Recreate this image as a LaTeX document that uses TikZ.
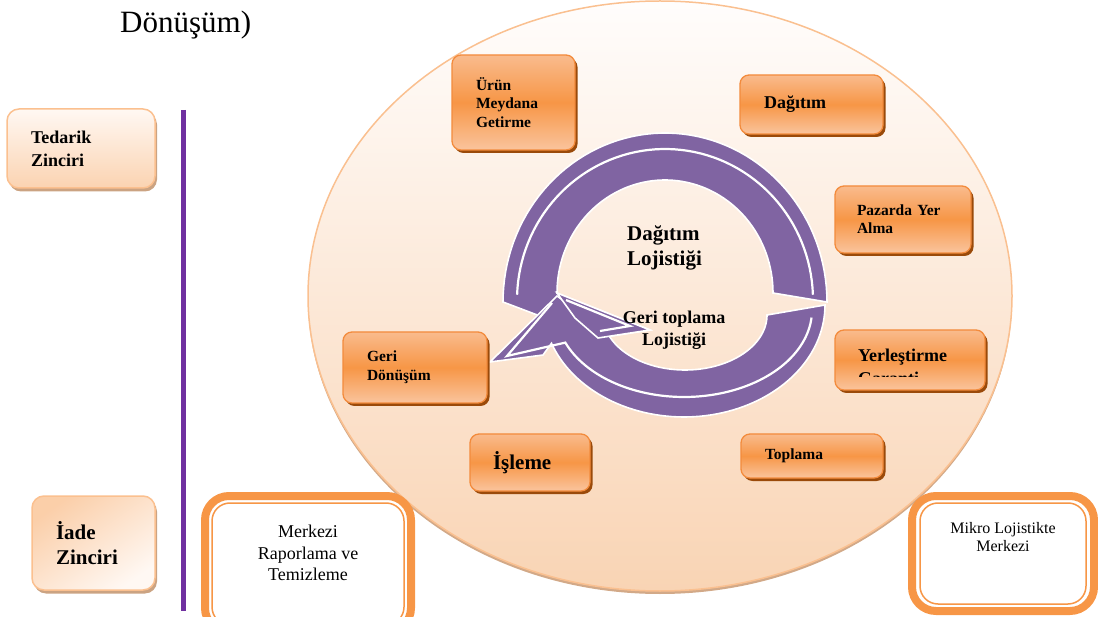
\documentclass[tikz,border=0pt]{standalone}
\usepackage{fontspec}
\setmainfont{Liberation Serif}
\usetikzlibrary{shadows,shapes.geometric}
\definecolor{purp}{HTML}{8064A2}
\definecolor{vline}{HTML}{7030A0}
\definecolor{omid}{HTML}{F79646}
\definecolor{otop}{HTML}{F9BB8D}
\definecolor{obot}{HTML}{FAC49D}
\definecolor{oborder}{HTML}{F38B3C}
\definecolor{shbrown}{HTML}{9A4A0A}
\definecolor{ptop}{HTML}{FFF8F3}
\definecolor{pbot}{HTML}{FBD3B1}
\definecolor{pborder}{HTML}{FBC08F}
\definecolor{pshadow}{HTML}{CBA382}
\definecolor{etop}{HTML}{FFFDFC}
\definecolor{ebot}{HTML}{F9D4B4}
\definecolor{eborder}{HTML}{FAC090}
\definecolor{eshadow}{HTML}{D2A988}
\newcommand\myfs[2]{\fontsize{#1pt}{#2pt}\selectfont}
\tikzset{
  obox/.style={rounded corners=9pt, draw=oborder, line width=1.3pt,
    top color=otop, bottom color=obot, middle color=omid,
    drop shadow={shadow xshift=2.5pt,shadow yshift=-3pt,fill=shbrown,opacity=1},
    align=left, inner xsep=24pt, inner ysep=0pt, font=\bfseries},
  pbox/.style={rounded corners=12pt, draw=pborder, line width=1.5pt,
    drop shadow={shadow xshift=2pt,shadow yshift=-3.5pt,fill=pshadow,opacity=1},
    align=left, inner xsep=24pt, inner ysep=0pt, font=\bfseries},
  wframe/.style={draw=omid, line width=8pt, fill=white},
  wline/.style={draw=omid, line width=1.5pt},
  purpfill/.style={fill=purp, draw=white, line width=1.6pt, line join=miter},
  stripe/.style={draw=white, line width=2.2pt},
}
\begin{document}
\begin{tikzpicture}[x=1pt,y=-1pt]
\useasboundingbox (0,0) rectangle (1098,617);

% title
\node[anchor=base west, font=\myfs{31}{36}, inner sep=0pt] (title) at (120,33) {Dönüşüm)};

% vertical line
\coordinate (vt) at (183,110);
\coordinate (vb) at (183,611);
\draw[vline, line width=5pt] (vt) -- (vb);

% big ellipse
\node[ellipse, minimum width=704pt, minimum height=590pt, inner sep=0pt,
  draw=eborder, line width=1.5pt, top color=etop, bottom color=ebot,
  drop shadow={shadow xshift=0pt,shadow yshift=-3pt,fill=eshadow,opacity=1}] (cyc) at (660,296) {};

% purple circular arrows
% upper arrow
\path[purpfill] plot[domain=180:360,samples=70] ({665+162*cos(\x)},{302+169*sin(\x)})
  -- (773,293)
  -- plot[domain=360:180,samples=70] ({665+108*cos(\x)},{293+113*sin(\x)})
  -- (650,330) -- (598,338) -- cycle;
% lower arrow
\path[purpfill] plot[domain=0:160,samples=70] ({684+141*cos(\x)},{305+112*sin(\x)})
  -- (543,355) -- (490,362) -- (557,296)
  -- plot[domain=162:0,samples=70] ({685+82*cos(\x)},{315+55*sin(\x)}) -- cycle;
% upper arrowhead on top
\path[purpfill] (557,293) -- (650,330) -- (598,338) -- (575,318) -- cycle;
% stripes
\draw[stripe] plot[domain=182:358,samples=70] ({665+148*cos(\x)},{300+151*sin(\x)});
\draw[stripe] plot[domain=5:158,samples=70] ({684+128*cos(\x)},{310+87*sin(\x)})
  -- (507,356) -- (552,303);
\draw[stripe] (566,300) -- (630,326) -- (600,331);

% center texts
\node[anchor=west, align=left, font=\myfs{21}{25}\bfseries, inner sep=0pt] (dlog) at (627,248) {Dağıtım\\Lojistiği};
\node[align=center, font=\myfs{18}{22}\bfseries, inner sep=0pt] (glog) at (674,330) {Geri toplama\\Lojistiği};

% orange boxes
\node[obox, text width=75pt, minimum height=95pt, font=\myfs{15.5}{18.5}\bfseries] (urun) at (513.5,102.5) {Ürün\\Meydana\\Getirme};
\node[obox, text width=95pt, minimum height=59pt, font=\myfs{18}{21}\bfseries] (dagitim) at (811.5,104.5) {Dağıtım};
\node[obox, text width=92pt, inner xsep=22pt, minimum height=67pt, font=\myfs{15.5}{18}\bfseries] (pazar) at (903,219.5) {Pazarda Yer\\Alma};
\node[obox, minimum width=150pt, minimum height=60pt] (yer) at (910,360) {};
\begin{scope}
  \clip (836,331) rectangle (984,377);
  \node[anchor=base west, font=\myfs{18}{21}\bfseries, inner sep=0pt] (yer1) at (858,362) {Yerleştirme};
  \node[anchor=base west, font=\myfs{18}{21}\bfseries, inner sep=0pt] (yer2) at (858,385) {Garanti};
\end{scope}
\node[obox, text width=94pt, minimum height=44pt, font=\myfs{15.5}{18}\bfseries] (toplama) at (812,456) {Toplama};
\node[obox, text width=96pt, minimum height=71pt, font=\myfs{15.5}{19}\bfseries] (geri) at (415,367.5) {Geri\\Dönüşüm};
\node[obox, text width=74pt, inner xsep=23pt, minimum height=57pt, font=\myfs{21}{25}\bfseries] (isleme) at (530,462.5) {İşleme};

% left boxes
\node[pbox, text width=100pt, minimum height=79pt, top color=ptop, bottom color=pbot, font=\myfs{18}{23}\bfseries] (tedarik) at (81,148.5) {Tedarik\\Zinciri};
\node[pbox, text width=75pt, minimum height=94pt, shading=axis, top color=pbot!110, bottom color=ptop, shading angle=35, font=\myfs{21}{25}\bfseries] (iade) at (93.5,543) {İade\\Zinciri};

% framed boxes
\node[wframe, rounded corners=24pt, minimum width=206pt, minimum height=136pt, inner sep=0pt] (merkezi) at (308,564) {};
\draw[wline, rounded corners=18pt] (212,503) rectangle (404,625);
\node[align=center, font=\myfs{18}{21.5}, inner sep=0pt] (merkezitxt) at (308,553) {Merkezi\\Raporlama ve\\Temizleme};

\node[wframe, rounded corners=24pt, minimum width=182pt, minimum height=115pt, inner sep=0pt] (mikro) at (1003,553.5) {};
\draw[wline, rounded corners=18pt] (920,503) rectangle (1086,604);
\node[align=center, font=\myfs{16}{18}, inner sep=0pt] (mikrotxt) at (1003,537) {Mikro Lojistikte\\Merkezi};
\end{tikzpicture}
\end{document}
